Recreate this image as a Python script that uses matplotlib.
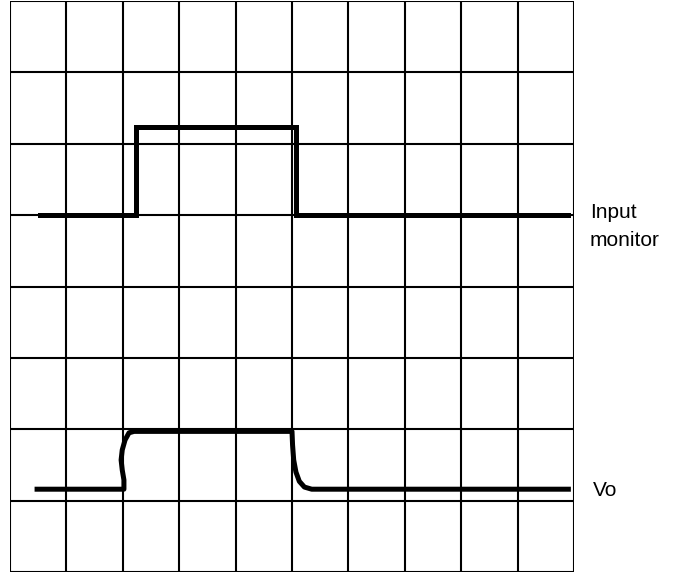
import numpy as np
import matplotlib.pyplot as plt

# input monitor trace (grid divisions)
inp_x = [0.53, 2.23, 2.23, 5.07, 5.07, 9.9]
inp_y = [5.0, 5.0, 6.23, 6.23, 5.0, 5.0]

# output trace Vo, with the rounded edges
vo_x = [0.48, 2.02, 2.02, 1.99, 1.97, 1.99, 2.04, 2.11, 2.20,
        5.0, 5.01, 5.03, 5.07, 5.13, 5.22, 5.35, 9.9]
vo_y = [1.16, 1.16, 1.29, 1.43, 1.57, 1.71, 1.85, 1.95, 1.97,
        1.97, 1.78, 1.57, 1.40, 1.27, 1.19, 1.16, 1.16]

n_cols = 10
n_rows = 8

fig = plt.figure(figsize=(6.89, 5.73), dpi=100)
ax = fig.add_axes([10 / 689, 1 / 573, 564 / 689, 571 / 573])

for i in range(n_cols + 1):
    ax.axvline(i, color='black', lw=1.5)
for j in range(n_rows + 1):
    ax.axhline(j, color='black', lw=1.5)

ax.plot(inp_x, inp_y, color='black', lw=3.6, solid_joinstyle='miter')
ax.plot(vo_x, vo_y, color='black', lw=3.6, solid_joinstyle='round')

ax.set_xlim(0, n_cols)
ax.set_ylim(0, n_rows)
ax.axis('off')

# labels on the right
fig.text(590 / 689, 1 - 218 / 573, 'Input', fontsize=15,
         family='Liberation Sans', va='baseline', ha='left')
fig.text(590 / 689, 1 - 246 / 573, 'monitor', fontsize=15,
         family='Liberation Sans', va='baseline', ha='left')
fig.text(593 / 689, 1 - 496 / 573, 'Vo', fontsize=15,
         family='Liberation Sans', va='baseline', ha='left')

fig.savefig('out.png', dpi=100)
